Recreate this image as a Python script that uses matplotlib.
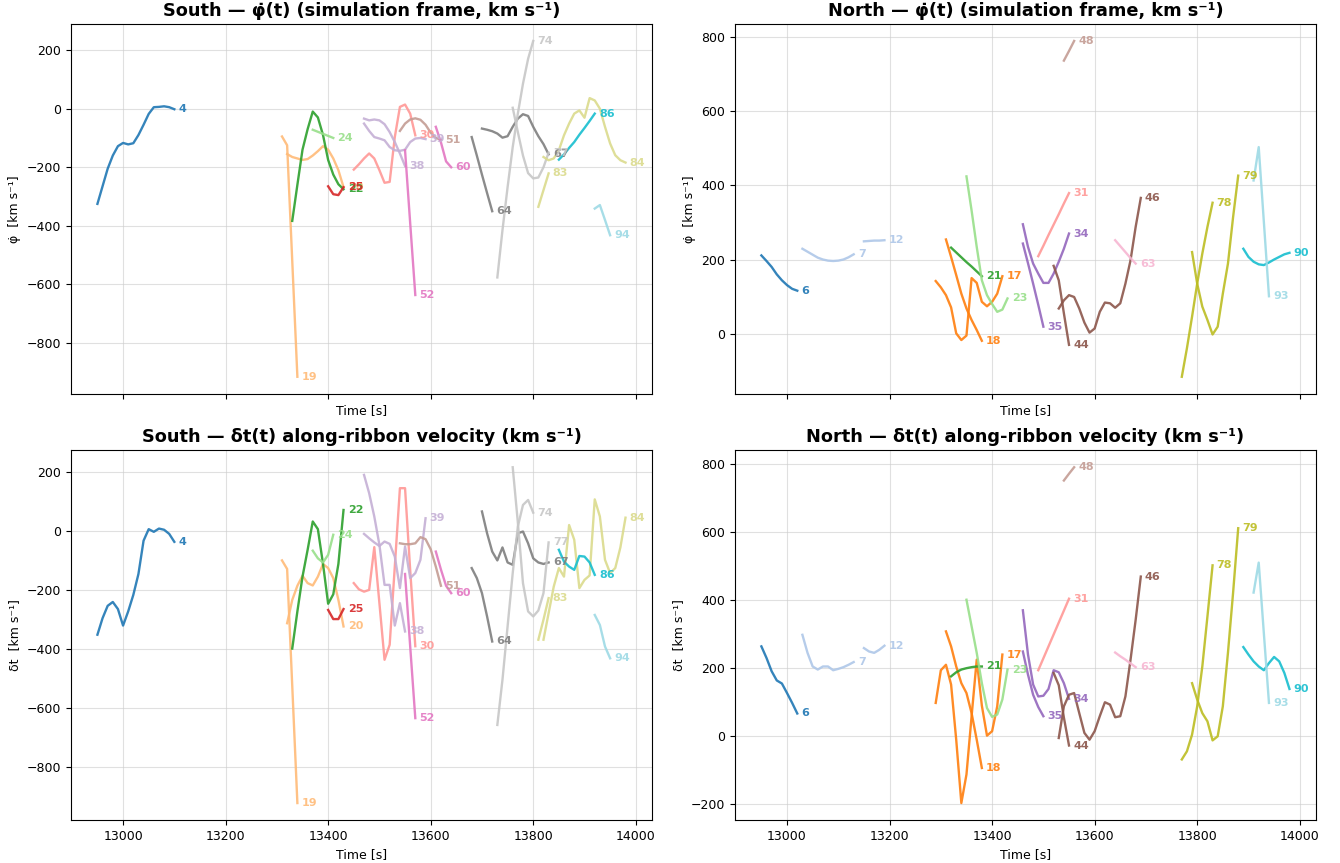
import numpy as np
import matplotlib
matplotlib.use("Agg")
import matplotlib.pyplot as plt

DT = 10.0  # sampling step of every track [s]

# ---- South ribbon: phi-dot in the simulation frame (start time, samples) ----
south_phidot_t0 = {4: 12950, 19: 13310, 20: 13320, 22: 13330, 24: 13370, 25: 13400,
                   30: 13450, 38: 13470, 39: 13470, 51: 13540, 52: 13550, 60: 13610,
                   64: 13680, 67: 13700, 74: 13730, 77: 13760, 83: 13810, 84: 13820,
                   86: 13850, 94: 13920}
south_phidot = {
    4: [-325, -265, -205, -160, -128, -117, -122, -118, -90, -55, -18, 5, 6, 8, 5, -2],
    19: [-95, -125, -520, -915],
    20: [-155, -165, -170, -175, -172, -160, -145, -128, -140, -170, -210, -268],
    22: [-383, -260, -140, -70, -10, -30, -90, -175, -225, -258, -275],
    24: [-72, -79, -86, -93, -100],
    25: [-265, -292, -295, -268],
    30: [-208, -190, -170, -153, -170, -210, -253, -250, -97, 6, 14, -17, -91],
    38: [-34, -40, -37, -40, -53, -80, -114, -153, -196],
    39: [-51, -76, -97, -102, -108, -131, -142, -144, -140, -114, -102, -100, -104],
    51: [-76, -51, -37, -33, -38, -55, -82, -100, -106],
    52: [-142, -390, -636],
    60: [-62, -115, -180, -200],
    64: [-97, -160, -225, -288, -350],
    67: [-68, -72, -77, -85, -99, -94, -62, -34, -19, -25, -62, -94, -121, -156],
    74: [-576, -415, -268, -131, -17, 85, 170, 231],
    77: [3, -80, -160, -220, -238, -235, -200, -150],
    83: [-335, -278, -221],
    84: [-165, -176, -170, -142, -91, -51, -17, -6, -31, 36, 28, 0, -62, -119, -159, -176, -184],
    86: [-174, -156, -134, -114, -89, -66, -42, -17],
    94: [-341, -329, -380, -432],
}

# ---- South ribbon: along-ribbon velocity ----
south_dt_t0 = dict(south_phidot_t0)
south_dt = {
    4: [-351, -295, -253, -240, -264, -320, -272, -216, -145, -32, 7, -2, 9, 5, -9, -36],
    19: [-99, -128, -525, -922],
    20: [-312, -233, -185, -151, -176, -184, -154, -111, -125, -159, -233, -323],
    22: [-398, -272, -154, -63, 33, 7, -111, -246, -214, -111, 72],
    24: [-66, -92, -106, -80, -12],
    25: [-267, -298, -298, -264],
    30: [-176, -197, -205, -199, -54, -244, -436, -385, -120, 146, 146, -131, -390],
    38: [191, 129, 50, -46, -182, -182, -320, -244, -340],
    39: [-9, -24, -38, -50, -35, -43, -86, -193, -52, -159, -142, -97, 44],
    51: [-41, -44, -44, -41, -20, -27, -61, -120, -185],
    52: [-145, -390, -634],
    60: [-69, -130, -185, -210],
    64: [-125, -159, -210, -289, -374],
    67: [67, -7, -69, -99, -55, -106, -114, -7, -1, -41, -92, -106, -111, -106],
    74: [-657, -504, -323, -142, 16, 89, 106, 63],
    77: [217, 30, -176, -272, -289, -269, -210, -38],
    83: [-368, -300, -227],
    84: [-368, -278, -188, -125, -154, 21, -29, -193, -165, -150, 108, 50, -97, -142, -125, -55, 46],
    86: [-63, -103, -120, -131, -84, -86, -106, -148],
    94: [-284, -318, -391, -431],
}

# ---- North ribbon: phi-dot in the simulation frame ----
north_phidot_t0 = {6: 12950, 7: 13030, 12: 13150, 17: 13290, 18: 13310, 21: 13320,
                   23: 13350, 31: 13490, 34: 13460, 35: 13460, 44: 13520, 46: 13530,
                   48: 13540, 63: 13640, 78: 13770, 79: 13790, 90: 13890, 93: 13910}
north_phidot = {
    6: [211, 196, 180, 160, 144, 131, 121, 116],
    7: [229, 221, 213, 205, 200, 197, 196, 197, 200, 206, 214],
    12: [249, 250, 251, 251, 252],
    17: [142, 125, 104, 71, 1, -17, -5, 150, 137, 86, 74, 86, 108, 155],
    18: [254, 207, 158, 108, 68, 37, 10, -19],
    21: [232, 219, 206, 193, 181, 168, 155],
    23: [424, 332, 234, 144, 104, 80, 59, 65, 95],
    31: [209, 237, 266, 294, 322, 351, 379],
    34: [295, 234, 189, 162, 137, 137, 162, 194, 229, 270],
    35: [243, 190, 135, 78, 19],
    44: [183, 144, 55, -30],
    46: [68, 90, 104, 99, 68, 30, 3, 14, 59, 84, 82, 70, 82, 135, 198, 288, 366],
    48: [736, 762, 789],
    63: [252, 236, 220, 204, 189],
    78: [-116, -39, 46, 135, 216, 288, 353],
    79: [220, 135, 73, 37, -2, 19, 108, 189, 314, 426],
    90: [229, 207, 194, 187, 185, 192, 200, 207, 214, 218],
    93: [413, 503, 302, 101],
}

# ---- North ribbon: along-ribbon velocity ----
north_dt_t0 = dict(north_phidot_t0)
north_dt = {
    6: [264, 230, 191, 164, 155, 127, 98, 67],
    7: [298, 245, 205, 196, 205, 205, 194, 198, 203, 210, 218],
    12: [259, 249, 245, 254, 266],
    17: [98, 194, 210, 152, -10, -196, -112, 59, 225, 90, 2, 15, 88, 240],
    18: [308, 264, 205, 156, 127, 68, -10, -93],
    21: [176, 188, 196, 200, 203, 205, 205],
    23: [401, 323, 245, 156, 83, 57, 64, 108, 196],
    31: [194, 229, 264, 299, 334, 369, 404],
    34: [370, 240, 152, 117, 119, 139, 194, 188, 156, 110],
    35: [249, 181, 122, 86, 59],
    44: [186, 150, 55, -27],
    46: [-5, 88, 122, 127, 68, 10, -10, 15, 59, 100, 93, 56, 59, 117, 225, 342, 469],
    48: [751, 771, 790],
    63: [246, 235, 225, 214, 203],
    78: [-68, -44, 5, 88, 205, 352, 502],
    79: [156, 108, 68, 44, -12, 0, 88, 245, 421, 611],
    90: [262, 240, 220, 205, 194, 215, 233, 220, 186, 139],
    93: [422, 510, 303, 98],
}

# one colour per track id, spread over tab20 by rank
all_ids = sorted(set(south_phidot) | set(north_phidot))
cmap = plt.get_cmap("tab20")
rank_colors = cmap(np.linspace(0, 1, len(all_ids)))
track_color = {tid: rank_colors[i] for i, tid in enumerate(all_ids)}

fig, axes = plt.subplots(2, 2, figsize=(13.4, 8.63), dpi=100, sharex=True)
fig.subplots_adjust(left=0.053, right=0.982, top=0.972, bottom=0.050,
                    wspace=0.143, hspace=0.154)

panels = [
    (axes[0, 0], south_phidot_t0, south_phidot,
     "South — φ̇(t) (simulation frame, km s⁻¹)", "φ̇  [km s⁻¹]"),
    (axes[0, 1], north_phidot_t0, north_phidot,
     "North — φ̇(t) (simulation frame, km s⁻¹)", "φ̇  [km s⁻¹]"),
    (axes[1, 0], south_dt_t0, south_dt,
     "South — δt(t) along-ribbon velocity (km s⁻¹)", "δt  [km s⁻¹]"),
    (axes[1, 1], north_dt_t0, north_dt,
     "North — δt(t) along-ribbon velocity (km s⁻¹)", "δt  [km s⁻¹]"),
]

for ax, starts, series, title, ylabel in panels:
    for tid, vals in series.items():
        vals = np.asarray(vals, dtype=float)
        t = starts[tid] + DT * np.arange(len(vals))
        col = track_color[tid]
        ax.plot(t, vals, color=col, lw=1.7, alpha=0.9)
        ax.annotate(str(tid), (t[-1], vals[-1]), xytext=(3, 0),
                    textcoords="offset points", va="center", ha="left",
                    fontsize=8, fontweight="bold", color=col, alpha=0.9)
    ax.set_title(title, fontsize=12.8, fontweight="bold")
    ax.set_xlabel("Time [s]", fontsize=9)
    ax.set_ylabel(ylabel, fontsize=9)
    ax.tick_params(labelsize=9)
    ax.grid(True, color="#cccccc", alpha=0.6, lw=0.8)

fig.savefig("out.png", dpi=100)
